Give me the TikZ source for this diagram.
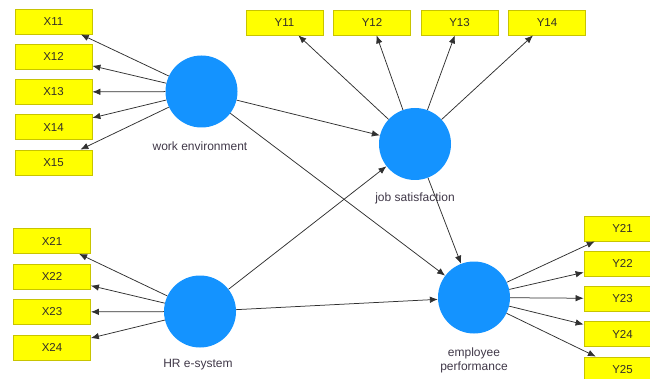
\documentclass[tikz,border=0pt]{standalone}
\usepackage{fontspec}
\setmainfont{Liberation Sans}
\usetikzlibrary{arrows.meta}
\definecolor{boxfill}{HTML}{FFFF00}
\definecolor{boxline}{HTML}{C8C400}
\definecolor{lvfill}{HTML}{1493FF}
\definecolor{lblcol}{HTML}{403848}
\definecolor{edgecol}{HTML}{303030}
\begin{document}
\begin{tikzpicture}[x=1pt,y=-1pt,
  indbox/.style={draw=boxline, line width=0.8pt, fill=boxfill, minimum width=77pt, minimum height=25pt, inner sep=0pt, font=\fontsize{11.5}{12}\selectfont, text=black!85!olive},
  lv/.style={circle, fill=lvfill, minimum size=72pt, inner sep=0pt},
  lvlabel/.style={font=\fontsize{12}{14}\selectfont, text=lblcol, align=center},
  edge/.style={draw=edgecol, line width=0.75pt, -{Latex[length=8pt,width=6.5pt]}}
]
\useasboundingbox (0,0) rectangle (650,379);
\clip (0,0) rectangle (650,379);
% latent variables
\node[lv] (we) at (201.5,91.5) {};
\node[lv] (js) at (415,144) {};
\node[lv] (hr) at (200,311.5) {};
\node[lv] (ep) at (474,297.5) {};
\node[lvlabel] (wel) at (200,146) {work environment};
\node[lvlabel] (jsl) at (415,198) {job satisfaction};
\node[lvlabel] (hrl) at (198,365) {HR e-system};
\node[lvlabel] (epl) at (474,360) {employee\\performance};
% indicators
\node[indbox] (x11) at (53.5,21.5) {X11};
\node[indbox] (x12) at (53.5,56.75) {X12};
\node[indbox] (x13) at (53.5,92) {X13};
\node[indbox] (x14) at (53.5,127.25) {X14};
\node[indbox] (x15) at (53.5,162.5) {X15};
\node[indbox] (y11) at (284.5,22.5) {Y11};
\node[indbox] (y12) at (372,22.5) {Y12};
\node[indbox] (y13) at (459.5,22.5) {Y13};
\node[indbox] (y14) at (547,22.5) {Y14};
\node[indbox] (x21) at (52,241) {X21};
\node[indbox] (x22) at (52,276.5) {X22};
\node[indbox] (x23) at (52,312) {X23};
\node[indbox] (x24) at (52,347.5) {X24};
\node[indbox] (y21) at (622.5,228.5) {Y21};
\node[indbox] (y22) at (622.5,263.5) {Y22};
\node[indbox] (y23) at (622.5,298.5) {Y23};
\node[indbox] (y24) at (622.5,334) {Y24};
\node[indbox] (y25) at (622.5,369.5) {Y25};
% outer loadings
\foreach \t in {x11,x12,x13,x14,x15} \draw[edge] (we) -- (\t);
\foreach \t in {y11,y12,y13,y14} \draw[edge] (js) -- (\t);
\foreach \t in {x21,x22,x23,x24} \draw[edge] (hr) -- (\t);
\foreach \t in {y21,y22,y23,y24,y25} \draw[edge] (ep) -- (\t);
% structural paths
\draw[edge] (we) -- (js);
\draw[edge] (we) -- (ep);
\draw[edge] (hr) -- (js);
\draw[edge] (hr) -- (ep);
\draw[edge] (js) -- (ep);
\end{tikzpicture}
\end{document}
